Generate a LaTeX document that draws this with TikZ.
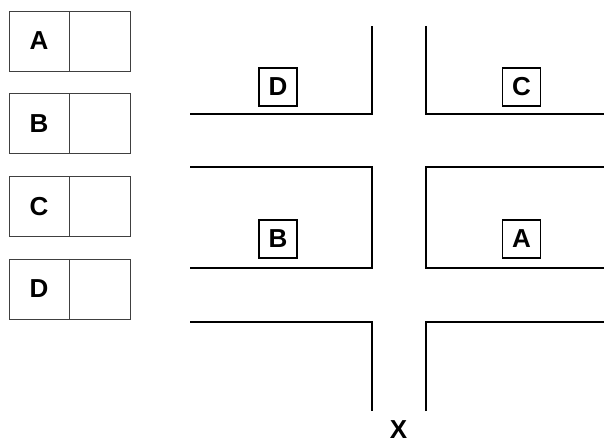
\documentclass[tikz,border=0pt]{standalone}
\usepackage{fontspec}
\setmainfont{Liberation Sans}
\usetikzlibrary{positioning}

\begin{document}
\begin{tikzpicture}[x=1pt,y=-1pt,
            road/.style={line width=1.6pt,line join=miter},
            keybox/.style={draw=black!75,line width=0.9pt},
            letter/.style={font=\fontsize{26}{26}\selectfont\bfseries,inner sep=0pt},
            tag/.style={draw,line width=1.6pt,minimum size=38pt,inner sep=0pt,
                font=\fontsize{26}{26}\selectfont\bfseries}]
            \useasboundingbox (0,0) rectangle (604,443);
            % key on the left
            \foreach \name/\top in {A/11,B/93.7,C/176.3,D/259}
            {
                \draw[keybox] (9,\top) rectangle (130,\top+60);
                \draw[keybox] (69,\top) -- (69,\top+60);
                \node[letter] (key\name) at (39,\top+30) {\name};
            }
            % roads
            \draw[road] (190,114) -- (372,114) -- (372,26);
            \draw[road] (426,26) -- (426,114) -- (604,114);
            \draw[road] (190,167) -- (372,167) -- (372,268) -- (190,268);
            \draw[road] (604,167) -- (426,167) -- (426,268) -- (604,268);
            \draw[road] (190,322) -- (372,322) -- (372,411);
            \draw[road] (426,411) -- (426,322) -- (604,322);
            % houses
            \node[tag] (houseD) at (278,87) {D};
            \node[tag] (houseC) [right=204pt of houseD] {C};
            \node[tag] (houseB) at (278,239) {B};
            \node[tag] (houseA) [right=204pt of houseB] {A};
            \node[letter] (start) at (398.5,430) {X};
\end{tikzpicture}
\end{document}
